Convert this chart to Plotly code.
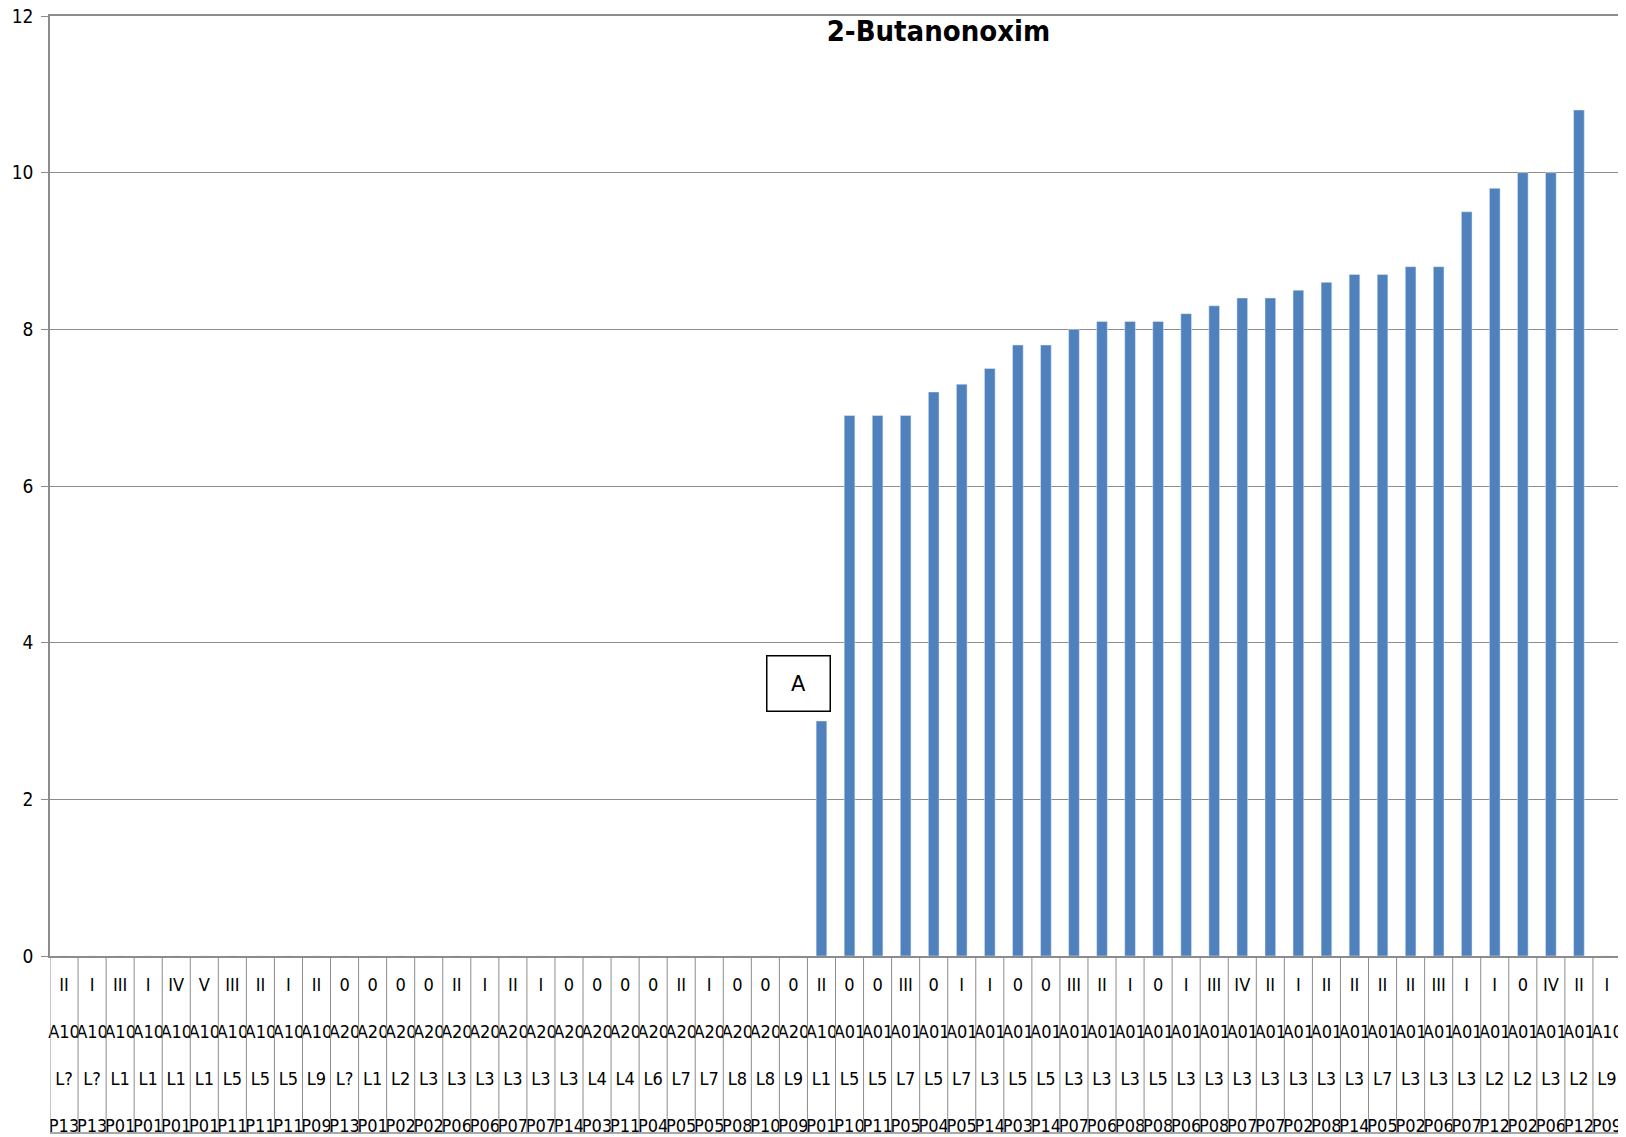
import plotly.graph_objects as go

grades = ["II", "I", "III", "I", "IV", "V", "III", "II", "I", "II",
          "0", "0", "0", "0", "II", "I", "II", "I", "0", "0",
          "0", "0", "II", "I", "0", "0", "0", "II", "0", "0",
          "III", "0", "I", "I", "0", "0", "III", "II", "I", "0",
          "I", "III", "IV", "II", "I", "II", "II", "II", "II", "III",
          "I", "I", "0", "IV", "II", "I"]
groups = ["A10"] * 10 + ["A20"] * 17 + ["A10"] + ["A01"] * 27 + ["A10"]
lines = ["L?", "L?", "L1", "L1", "L1", "L1", "L5", "L5", "L5", "L9",
         "L?", "L1", "L2", "L3", "L3", "L3", "L3", "L3", "L3", "L4",
         "L4", "L6", "L7", "L7", "L8", "L8", "L9", "L1", "L5", "L5",
         "L7", "L5", "L7", "L3", "L5", "L5", "L3", "L3", "L3", "L5",
         "L3", "L3", "L3", "L3", "L3", "L3", "L3", "L7", "L3", "L3",
         "L3", "L2", "L2", "L3", "L2", "L9"]
points = ["P13", "P13", "P01", "P01", "P01", "P01", "P11", "P11", "P11", "P09",
          "P13", "P01", "P02", "P02", "P06", "P06", "P07", "P07", "P14", "P03",
          "P11", "P04", "P05", "P05", "P08", "P10", "P09", "P01", "P10", "P11",
          "P05", "P04", "P05", "P14", "P03", "P14", "P07", "P06", "P08", "P08",
          "P06", "P08", "P07", "P07", "P02", "P08", "P14", "P05", "P02", "P06",
          "P07", "P12", "P02", "P06", "P12", "P09"]
values = [0] * 27 + [3.0,
          6.9, 6.9, 6.9, 7.2, 7.3, 7.5, 7.8, 7.8, 8.0, 8.1,
          8.1, 8.1, 8.2, 8.3, 8.4, 8.4, 8.5, 8.6, 8.7, 8.7,
          8.8, 8.8, 9.5, 9.8, 10.0, 10.0, 10.8, 0]
y_ticks = [0, 2, 4, 6, 8, 10, 12]

n = len(values)
xs = list(range(n))
ticktext = [f"{g}<br><br>{a}<br><br>{l}<br><br>{p}" for g, a, l, p in zip(grades, groups, lines, points)]

fig = go.Figure(go.Bar(x=xs, y=values, marker_color="#4F81BD", width=0.38))

grid = "#8C8C8C"
fam = "Liberation Sans Narrow, DejaVu Sans Condensed, sans-serif"
label_font = dict(family=fam, size=18, color="black")

W, H = 1618, 1129
mt, mb, ml, mr = 8, 181, 42, 5
plot_h = H - mt - mb
bottom = -177 / plot_h
shapes = []
for i in range(n + 1):
    shapes.append(dict(type="line", xref="x", yref="paper", x0=i - 0.5, x1=i - 0.5,
                       y0=0, y1=bottom, line=dict(color=grid, width=1)))
shapes.append(dict(type="line", xref="x", yref="paper", x0=-0.5, x1=n - 0.5,
                   y0=bottom, y1=bottom, line=dict(color=grid, width=1.5)))

fig.update_layout(
    width=W, height=H,
    margin=dict(l=ml, r=mr, t=mt, b=mb, autoexpand=False),
    plot_bgcolor="white", paper_bgcolor="white",
    showlegend=False,
    shapes=shapes,
    title=dict(text="<b>2-Butanonoxim</b>", x=0.5655, xref="paper", xanchor="center",
               y=1 - 23 / H, yref="container", yanchor="middle",
               font=dict(family=fam, size=29, color="black")),
    xaxis=dict(range=[-0.5, n - 0.5], tickmode="array", tickvals=xs, ticktext=ticktext,
               tickangle=0, tickfont=label_font, ticks="outside", ticklen=12,
               tickcolor="rgba(0,0,0,0)", showgrid=False, showline=True, automargin=False,
               linecolor=grid, linewidth=1.5, zeroline=False, mirror=True,
               ticklabeloverflow="allow"),
    yaxis=dict(range=[0, 12], tickvals=y_ticks, showgrid=True, gridcolor=grid, gridwidth=1,
               showline=True, linecolor=grid, linewidth=1.5, ticks="outside", ticklen=7,
               tickcolor=grid, tickfont=dict(family=fam, size=19, color="black"),
               ticklabelstandoff=4, zeroline=False, automargin=False,
               ticklabeloverflow="allow"),
    annotations=[dict(x=26.17, y=3.48, xref="x", yref="y", text="A", showarrow=False,
                      font=dict(family="DejaVu Sans, sans-serif", size=21, color="black"),
                      bordercolor="black", borderwidth=1.5, width=60, height=52,
                      bgcolor="white")],
)

fig.write_html("out.html")
